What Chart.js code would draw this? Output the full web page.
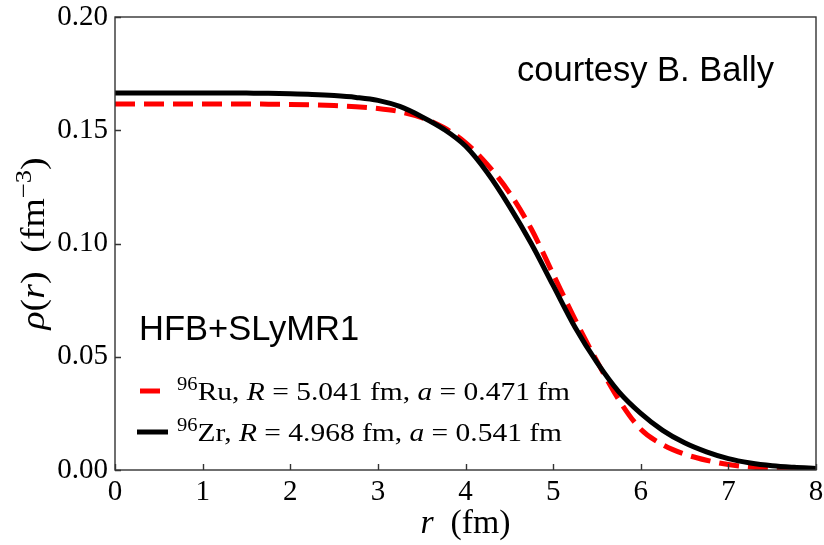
<!DOCTYPE html>
<html>
<head>
<meta charset="utf-8">
<script src="https://cdn.jsdelivr.net/npm/chart.js@4.4.1/dist/chart.umd.min.js"></script>
<style>
  html, body { margin: 0; padding: 0; background: #fff; }
  #wrap { width: 824px; height: 545px; }
</style>
</head>
<body>
<div id="wrap"><canvas id="densityChart"></canvas></div>
<script>
// radial grid (fm)
var radius = [0, 0.25, 0.5, 0.75, 1, 1.25, 1.5, 1.75, 2, 2.25, 2.5, 2.75, 3, 3.25, 3.5, 3.75,
              4, 4.25, 4.5, 4.75, 5, 5.25, 5.5, 5.75, 6, 6.25, 6.5, 6.75, 7, 7.25, 7.5, 7.75, 8];

// 96Ru density (fm^-3)
var rhoRu = [0.1616, 0.1616, 0.1616, 0.1616, 0.1616, 0.1616, 0.1616, 0.1615, 0.1614, 0.1612, 0.1609,
             0.1604, 0.1596, 0.1582, 0.1556, 0.1512, 0.1445, 0.1348, 0.1225, 0.1065, 0.0865, 0.0665,
             0.0480, 0.0310, 0.0180, 0.0112, 0.0070, 0.0043, 0.0024, 0.0013, 0.0007, 0.0004, 0.0002];

// 96Zr density (fm^-3)
var rhoZr = [0.1665, 0.1665, 0.1665, 0.1665, 0.1665, 0.1665, 0.1664, 0.1663, 0.1661, 0.1658, 0.1653,
             0.1645, 0.1632, 0.1605, 0.1560, 0.1505, 0.1430, 0.1312, 0.1165, 0.1000, 0.0815, 0.0630,
             0.0475, 0.0345, 0.0250, 0.0175, 0.0120, 0.0080, 0.0050, 0.0031, 0.0019, 0.0012, 0.0007];

var xTicks = [0, 1, 2, 3, 4, 5, 6, 7, 8];
var yTicks = [0, 0.05, 0.10, 0.15, 0.20];

// legend pieces: [text, style] where style is '', 'i' (italic) or 's' (superscript)
var legendRu = [['96', 's'], ['Ru, ', ''], ['R', 'i'], [' = 5.041 fm, ', ''], ['a', 'i'], [' = 0.471 fm', '']];
var legendZr = [['96', 's'], ['Zr, ', ''], ['R', 'i'], [' = 4.968 fm, ', ''], ['a', 'i'], [' = 0.541 fm', '']];

var SERIF = '"Liberation Serif", "DejaVu Serif", serif';
var SANS = '"Liberation Sans", Arial, sans-serif';

function toPoints(xs, ys) {
  return xs.map(function (x, i) { return { x: x, y: ys[i] }; });
}

function setFont(ctx, p, size) {
  var sz = p[1] === 's' ? size * 0.7 : size;
  ctx.font = (p[1] === 'i' ? 'italic ' : '') + sz + 'px ' + SERIF;
}

function richWidth(ctx, parts, size) {
  var w = 0;
  parts.forEach(function (p) { setFont(ctx, p, size); w += ctx.measureText(p[0]).width; });
  return w;
}

// mixed-style text from x on baseline y, stretched sideways to span `width` px
function drawRich(ctx, parts, x, y, size, width) {
  var k = width ? width / richWidth(ctx, parts, size) : 1;
  ctx.save();
  ctx.translate(x, y);
  ctx.scale(k, 1);
  var cx = 0;
  parts.forEach(function (p) {
    setFont(ctx, p, size);
    ctx.fillText(p[0], cx, p[1] === 's' ? -size * 0.4 : 0);
    cx += ctx.measureText(p[0]).width;
  });
  ctx.restore();
}

var decorations = {
  id: 'decorations',
  afterDraw: function (chart) {
    var ctx = chart.ctx;
    var a = chart.chartArea;
    var xs = chart.scales.x, ys = chart.scales.y;
    ctx.save();

    // frame
    ctx.strokeStyle = '#333';
    ctx.lineWidth = 1.4;
    ctx.strokeRect(a.left, a.top, a.right - a.left, a.bottom - a.top);

    // inward tick marks
    ctx.beginPath();
    xTicks.forEach(function (t) {
      var px = Math.round(xs.getPixelForValue(t)) + 0.5;
      ctx.moveTo(px, a.bottom);
      ctx.lineTo(px, a.bottom - 6);
    });
    yTicks.forEach(function (t) {
      var py = Math.round(ys.getPixelForValue(t)) + 0.5;
      ctx.moveTo(a.left, py);
      ctx.lineTo(a.left + 6, py);
    });
    ctx.stroke();

    ctx.fillStyle = '#000';
    ctx.textBaseline = 'alphabetic';
    ctx.textAlign = 'left';

    // x axis title
    var xTitle = [['r', 'i'], ['  (fm)', '']];
    var cx = (a.left + a.right) / 2;
    drawRich(ctx, xTitle, cx - 45, 533, 33, 90);

    // y axis title, rotated
    var yTitle = [['\u03C1', 'i'], ['(', ''], ['r', 'i'], [')  (fm', ''], ['\u22123', 's'], [')', '']];
    ctx.save();
    ctx.translate(44, (a.top + a.bottom) / 2);
    ctx.rotate(-Math.PI / 2);
    drawRich(ctx, yTitle, -86, 0, 33, 172);
    ctx.restore();

    // annotations
    ctx.font = '34.5px ' + SANS;
    ctx.textAlign = 'right';
    ctx.fillText('courtesy B. Bally', 774, 81);
    ctx.textAlign = 'left';
    ctx.fillText('HFB+SLyMR1', 139, 340);

    // legend
    var ds = chart.data.datasets;
    ctx.lineCap = 'butt';
    ctx.lineWidth = 5;
    ctx.strokeStyle = ds[1].borderColor;
    ctx.beginPath(); ctx.moveTo(140, 391); ctx.lineTo(160, 391); ctx.stroke();
    ctx.strokeStyle = ds[0].borderColor;
    ctx.beginPath(); ctx.moveTo(137, 432); ctx.lineTo(168, 432); ctx.stroke();
    drawRich(ctx, legendRu, 177, 400, 26, 393);
    drawRich(ctx, legendZr, 177, 441, 26, 385);

    ctx.restore();
  }
};

var ctx = document.getElementById('densityChart').getContext('2d');
var densityChart = new Chart(ctx, {
  type: 'line',
  data: {
    datasets: [{
      label: '96Zr',
      data: toPoints(radius, rhoZr),
      borderColor: '#000000',
      borderWidth: 5,
      pointRadius: 0,
      cubicInterpolationMode: 'monotone',
      order: 0
    }, {
      label: '96Ru',
      data: toPoints(radius, rhoRu),
      borderColor: '#ff0000',
      borderWidth: 5,
      borderDash: [20, 9],
      pointRadius: 0,
      cubicInterpolationMode: 'monotone',
      order: 1
    }]
  },
  options: {
    responsive: true,
    maintainAspectRatio: false,
    animation: false,
    layout: { padding: { top: 17, right: 8, left: 0, bottom: 0 } },
    plugins: {
      legend: { display: false },
      tooltip: { enabled: false }
    },
    scales: {
      x: {
        type: 'linear',
        min: 0,
        max: 8,
        afterFit: function (s) { s.height = 75; s.paddingLeft = 0; s.paddingRight = 0; },
        afterBuildTicks: function (s) { s.ticks = xTicks.map(function (v) { return { value: v }; }); },
        grid: { display: false, drawTicks: false },
        border: { display: false },
        ticks: {
          padding: 5,
          color: '#000',
          maxRotation: 0,
          font: { family: SERIF, size: 29 },
          callback: function (v) { return String(v); }
        }
      },
      y: {
        min: 0,
        max: 0.2,
        afterFit: function (s) { s.width = 115; s.paddingTop = 0; s.paddingBottom = 0; },
        afterBuildTicks: function (s) { s.ticks = yTicks.map(function (v) { return { value: v }; }); },
        grid: { display: false, drawTicks: false },
        border: { display: false },
        ticks: {
          padding: 7,
          color: '#000',
          font: { family: SERIF, size: 29 },
          callback: function (v) { return v.toFixed(2); }
        }
      }
    }
  },
  plugins: [decorations]
});
</script>
</body>
</html>
